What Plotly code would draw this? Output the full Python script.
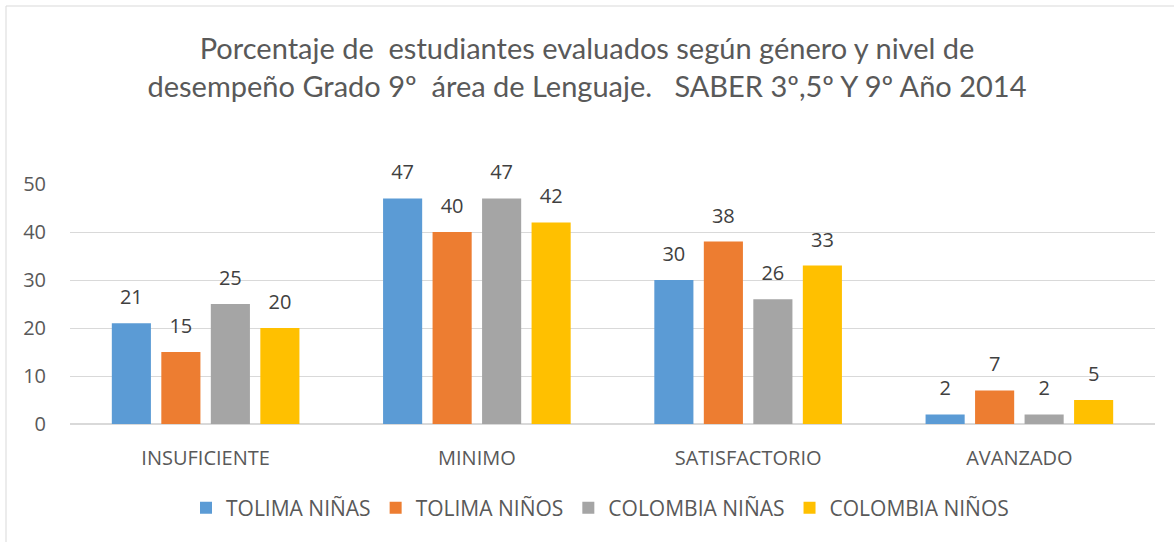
import plotly.graph_objects as go

categories = ["INSUFICIENTE", "MINIMO", "SATISFACTORIO", "AVANZADO"]
series_names = ["TOLIMA NIÑAS", "TOLIMA NIÑOS", "COLOMBIA NIÑAS", "COLOMBIA NIÑOS"]
tolima_ninas = [21, 47, 30, 2]
tolima_ninos = [15, 40, 38, 7]
colombia_ninas = [25, 47, 26, 2]
colombia_ninos = [20, 42, 33, 5]
colors = ["#5B9BD5", "#ED7D31", "#A5A5A5", "#FFC000"]
y_ticks = [0, 10, 20, 30, 40, 50]

TFONT = "Lato, Open Sans, sans-serif"
FONT = "Open Sans, sans-serif"
TXT = "#595959"

fig = go.Figure()
for name, vals, col in zip(series_names,
                           [tolima_ninas, tolima_ninos, colombia_ninas, colombia_ninos],
                           colors):
    fig.add_trace(go.Bar(
        name=name, x=categories, y=vals, marker=dict(color=col, line=dict(width=0)),
        text=vals,
        texttemplate="<span style='font-size:20px'>%{y}</span><br> ",
        textposition="outside", cliponaxis=False, constraintext="none",
        textfont=dict(family=FONT, size=10, color="#404040"),
    ))

fig.update_layout(
    width=1174, height=542,
    margin=dict(l=70, r=19, t=184, b=118, autoexpand=False),
    paper_bgcolor="white", plot_bgcolor="white",
    barmode="group", bargap=0.27, bargroupgap=0.21,
    title=dict(
        text="Porcentaje de  estudiantes evaluados según género y nivel de<br>desempeño Grado 9º  área de Lenguaje.   SABER 3º,5º Y 9º Año 2014",
        x=0.5, xref="container", xanchor="center",
        y=1 - 59 / 542, yref="container", yanchor="middle",
        font=dict(family=TFONT, size=29, color=TXT),
    ),
    font=dict(family=FONT, color=TXT),
    showlegend=True,
    legend=dict(
        orientation="h", x=(600 - 70) / 1085, xanchor="center",
        y=-(508 - 424) / 240, yanchor="middle",
        font=dict(family=FONT, size=21, color=TXT),
        traceorder="normal",
    ),
    xaxis=dict(
        showgrid=False, showline=True, linecolor="#D9D9D9", linewidth=1,
        ticks="", ticklabelstandoff=16, tickangle=0, automargin=False,
        tickfont=dict(family=FONT, size=20, color=TXT),
    ),
    yaxis=dict(
        range=[0, 50], tickvals=y_ticks, showgrid=True, gridcolor="#D9D9D9",
        gridwidth=1, zeroline=True, zerolinecolor="#D9D9D9", showline=False,
        ticks="", ticklabelstandoff=23, automargin=False,
        tickfont=dict(family=FONT, size=20, color=TXT),
    ),
    shapes=[dict(
        type="rect", xref="paper", yref="paper",
        x0=(6 - 70) / 1085, x1=1.2, y0=-0.8, y1=(424 - 6) / 240,
        line=dict(color="#D9D9D9", width=1), fillcolor="rgba(0,0,0,0)", layer="below",
    )],
)

fig.write_html("out.html", config={"displayModeBar": False},
               post_script="document.body.style.margin='0';")
